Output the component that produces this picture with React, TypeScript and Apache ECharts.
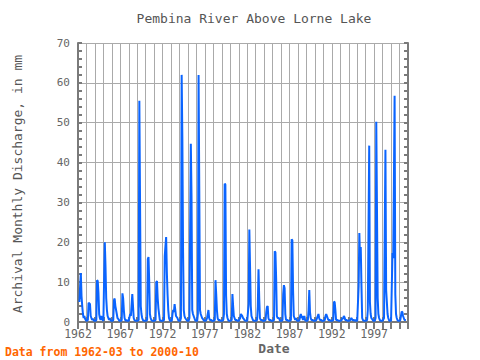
import React, { useEffect, useRef } from "react";
import * as echarts from "echarts";

// Monthly archival discharge (mm). First series starts 1962-03.
const startYear = 1962;
const startMonth = 3;
const years1960s: number[][] = [
  [5, 9, 12.3, 6.5, 4, 2, 1, 1.5, 0.8, 0.5], // 1962 (Mar-Dec)
  [0.3, 0.3, 0.5, 4.8, 4.8, 4.5, 1.5, 1, 0.5, 0.8, 0.5, 0.3],
  [0.3, 0.3, 0.5, 10.5, 10.3, 7.3, 2, 1, 0.5, 1.5, 1, 0.5],
  [0.3, 0.3, 20, 14, 6, 3, 1.5, 1, 0.5, 1, 0.5, 0.3],
  [0.3, 0.3, 0.5, 5.5, 5.9, 4, 3, 2, 1, 0.8, 0.5, 0.3],
  [0.3, 0.3, 0.5, 7.2, 6, 3, 1, 0.5, 0.3, 0.5, 0.3, 0.3],
  [0.3, 0.3, 2, 1.5, 1.5, 7, 4, 1, 0.5, 0.5, 0.3, 0.3],
  [0.3, 0.3, 0.5, 55.5, 29.7, 4, 2, 1, 0.5, 0.5, 0.3, 0.3],
];
const years1970s: number[][] = [
  [0.3, 0.3, 0.5, 15.8, 16.3, 10, 2, 1, 0.5, 0.5, 0.3, 0.3],
  [0.3, 0.3, 0.5, 10, 10.3, 6, 3.5, 2, 0.5, 0.5, 0.3, 0.3],
  [0.3, 0.3, 0.5, 16.5, 19, 21.3, 12.5, 7, 3, 1, 0.5, 0.3],
  [0.3, 0.3, 2, 3, 2.5, 4.5, 3, 1.5, 1.5, 1, 0.5, 0.3],
  [0.3, 0.3, 1, 62, 45.9, 17.6, 3, 1.5, 1, 1, 0.5, 0.3],
  [0.3, 0.3, 1, 22.6, 44.7, 31.3, 3, 2, 1.5, 1, 0.5, 0.3],
  [0.3, 0.3, 2, 62, 33, 3, 2, 1.5, 1, 0.8, 0.5, 0.3],
  [0.3, 0.3, 0.5, 1, 2, 3, 1, 0.5, 0.5, 0.5, 0.3, 0.3],
  [0.3, 0.3, 0.5, 10.5, 7, 3, 1, 0.5, 0.5, 0.5, 0.3, 0.3],
  [0.3, 0.3, 0.5, 2, 34.7, 34.5, 6.7, 2, 1, 0.5, 0.3, 0.3],
];
const years1980s: number[][] = [
  [0.3, 0.3, 0.5, 7, 4, 1.5, 1, 0.5, 0.5, 0.5, 0.3, 0.3],
  [0.3, 0.3, 1, 2, 2, 1.5, 1, 0.8, 0.5, 0.5, 0.3, 0.3],
  [0.3, 0.3, 4.5, 23.2, 13.8, 4, 1.5, 1, 0.5, 0.5, 0.3, 0.3],
  [0.3, 0.3, 0.5, 4, 13.2, 6, 1, 0.5, 0.5, 0.5, 0.3, 0.3],
  [0.3, 0.3, 0.5, 2.5, 3.8, 4, 1, 0.5, 0.5, 0.5, 0.3, 0.3],
  [0.3, 0.3, 0.5, 17.75, 17.5, 10.9, 1.5, 1, 1, 1, 0.5, 0.3],
  [0.3, 0.3, 0.5, 7, 9.25, 8.5, 2, 0.5, 0.5, 0.5, 0.3, 0.3],
  [0.3, 0.3, 0.5, 20.75, 20.5, 8, 1.5, 1, 0.5, 1, 0.5, 0.3],
  [0.3, 0.3, 0.5, 1.5, 2, 1, 1.5, 0.5, 0.5, 1.5, 0.5, 0.3],
  [0.3, 0.3, 0.5, 3, 8, 2.5, 1, 0.5, 0.5, 0.5, 0.3, 0.3],
];
const years1990s: number[][] = [
  [0.3, 0.3, 0.5, 1, 1.5, 2, 1, 0.5, 0.5, 0.5, 0.3, 0.3],
  [0.3, 0.3, 0.5, 1.5, 2, 1.5, 1, 0.5, 0.5, 0.5, 0.3, 0.3],
  [0.3, 0.3, 0.5, 5.1, 5, 3, 0.5, 0.5, 0.5, 0.5, 0.3, 0.3],
  [0.3, 0.3, 0.5, 1, 0.8, 1.5, 1.2, 0.5, 0.5, 0.5, 0.3, 0.3],
  [0.3, 0.3, 0.5, 0.8, 1, 0.5, 0.5, 0.5, 0.3, 0.5, 0.3, 0.3],
  [0.3, 0.3, 9, 22.3, 15.5, 18.8, 9, 1, 0.5, 0.5, 0.3, 0.3],
  [0.3, 0.3, 0.5, 3, 23.4, 44.25, 5, 2, 1, 1, 0.5, 0.3],
  [0.3, 0.3, 1, 50.25, 28.4, 6, 2, 1, 0.5, 0.5, 0.3, 0.3],
  [0.3, 0.3, 1, 22.2, 43.2, 8, 5, 2, 1, 0.5, 0.3, 0.3],
  [0.3, 0.3, 17.3, 16, 34.7, 56.75, 7, 2, 1, 0.5, 0.3, 0.3],
];
const years2000s: number[][] = [
  [0.3, 0.5, 1.5, 2.6, 2.5, 1.5, 1, 0.5, 0.5, 0.5], // 2000 (Jan-Oct)
];
const xTickYears = [1962, 1967, 1972, 1977, 1982, 1987, 1992, 1997];
const yTicks = [0, 10, 20, 30, 40, 50, 60, 70];

const TITLE = "Pembina River Above Lorne Lake";
const Y_NAME = "Archival Monthly Discharge, in mm";
const X_NAME = "Date";
const FOOTER = "Data from 1962-03 to 2000-10";

function buildSeries(): [number, number][] {
  const all = [...years1960s, ...years1970s, ...years1980s, ...years1990s, ...years2000s];
  const out: [number, number][] = [];
  all.forEach((vals, yi) => {
    const y = startYear + yi;
    const m0 = yi === 0 ? startMonth - 1 : 0;
    vals.forEach((v, k) => {
      out.push([y + (m0 + k) / 12, v]);
    });
  });
  return out;
}

const FONT = "DejaVu Sans Mono";
const AXIS_COLOR = "#7a7a7a";

export default function App() {
  const ref = useRef<HTMLDivElement>(null);
  useEffect(() => {
    if (!ref.current) return;
    const chart = echarts.init(ref.current, undefined, { renderer: "svg" });
    const data = buildSeries();
    const xMin = xTickYears[0];
    const xMax = 2001;
    const common = {
      type: "value" as const,
      min: xMin,
      max: xMax,
      interval: 1,
    };
    chart.setOption({
      animation: false,
      grid: { left: 78, right: 72, top: 43, bottom: 38, containLabel: false },
      xAxis: [
        {
          ...common,
          position: "bottom",
          axisLine: { show: true, lineStyle: { color: AXIS_COLOR, width: 2 } },
          axisTick: { show: true, inside: true, length: 5, lineStyle: { color: AXIS_COLOR, width: 2 } },
          axisLabel: {
            margin: 6,
            fontFamily: FONT,
            fontSize: 11.5,
            color: "#666",
            formatter: (v: number) => (xTickYears.includes(Math.round(v)) ? String(Math.round(v)) : ""),
          },
          splitLine: { show: true, lineStyle: { color: "#aaaaaa", width: 1 } },
        },
        {
          ...common,
          position: "top",
          axisLine: { show: true, lineStyle: { color: AXIS_COLOR, width: 2 } },
          axisTick: { show: true, inside: true, length: 7, lineStyle: { color: AXIS_COLOR, width: 2 } },
          axisLabel: { show: false },
          splitLine: { show: false },
        },
      ],
      yAxis: [
        {
          type: "value",
          min: yTicks[0],
          max: yTicks[yTicks.length - 1],
          interval: 10,
          position: "left",
          axisLine: { show: true, lineStyle: { color: AXIS_COLOR, width: 2 } },
          axisTick: { show: true, inside: true, length: 4, lineStyle: { color: AXIS_COLOR, width: 2 } },
          minorTick: { show: true, splitNumber: 5, length: 4, lineStyle: { color: AXIS_COLOR, width: 2 } },
          axisLabel: { margin: 8, fontFamily: FONT, fontSize: 11, color: "#666" },
          splitLine: { show: true, lineStyle: { color: "#aaaaaa", width: 1 } },
        },
        {
          type: "value",
          min: yTicks[0],
          max: yTicks[yTicks.length - 1],
          interval: 10,
          position: "right",
          axisLine: { show: true, lineStyle: { color: AXIS_COLOR, width: 2 } },
          axisTick: { show: true, inside: true, length: 4, lineStyle: { color: AXIS_COLOR, width: 2 } },
          minorTick: { show: true, splitNumber: 5, length: 4, lineStyle: { color: AXIS_COLOR, width: 2 } },
          axisLabel: { show: false },
          splitLine: { show: false },
        },
      ],
      series: [
        {
          type: "line",
          xAxisIndex: 0,
          yAxisIndex: 0,
          data,
          showSymbol: false,
          symbol: "none",
          lineStyle: { color: "#0a64ff", width: 2 },
        },
      ],
      graphic: [
        {
          type: "text",
          x: 254,
          y: 18,
          style: { text: TITLE, fontFamily: FONT, fontSize: 13, fill: "#555", align: "center", verticalAlign: "middle" },
        },
        {
          type: "text",
          x: 17,
          y: 184,
          rotation: Math.PI / 2,
          style: { text: Y_NAME, fontFamily: FONT, fontSize: 13, fill: "#555", align: "center", verticalAlign: "middle" },
        },
        {
          type: "text",
          x: 274,
          y: 348,
          style: { text: X_NAME, fontFamily: FONT, fontSize: 13, fontWeight: "bold", fill: "#666", align: "center", verticalAlign: "middle" },
        },
        {
          type: "text",
          x: 5,
          y: 352,
          style: { text: FOOTER, fontFamily: FONT, fontSize: 11.5, fontWeight: "bold", fill: "#ff6600", align: "left", verticalAlign: "middle" },
        },
      ],
    });
    return () => chart.dispose();
  }, []);
  return <div ref={ref} style={{ width: 480, height: 360, position: "absolute", left: 0, top: 0 }} />;
}
